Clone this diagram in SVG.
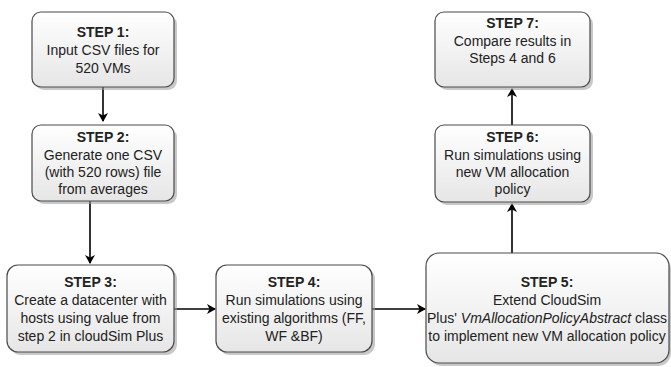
<svg xmlns="http://www.w3.org/2000/svg" width="671" height="367" viewBox="0 0 671 367">
<style>
.box{fill:url(#g);stroke:#4a4a4a;stroke-width:1.2}
.sh{fill:#9a9a9a;opacity:0.55}
text{font-family:"Liberation Sans",Arial,sans-serif;font-size:14px;fill:#222;text-anchor:middle}
.b{font-weight:bold}
.conn{stroke:#000;stroke-width:1.6;fill:none;marker-end:url(#ah)}
</style>
<defs>
<linearGradient id="g" x1="0" y1="0" x2="0" y2="1">
<stop offset="0" stop-color="#ffffff"/>
<stop offset="1" stop-color="#e6e6e6"/>
</linearGradient>
<marker id="ah" markerWidth="10" markerHeight="10" refX="8" refY="5" orient="auto" markerUnits="userSpaceOnUse">
<path d="M0,0 L9,5 L0,10 L2.5,5 Z" fill="#000"/>
</marker>
</defs>
<rect width="671" height="367" fill="#fff"/>
<g id="connectors">
<line class="conn" x1="103" y1="87" x2="103" y2="121"/>
<line class="conn" x1="90" y1="201" x2="90" y2="263"/>
<line class="conn" x1="174" y1="309" x2="215" y2="309"/>
<line class="conn" x1="372" y1="309" x2="425" y2="309"/>
<line class="conn" x1="512" y1="253" x2="512" y2="204"/>
<line class="conn" x1="512" y1="125" x2="512" y2="89"/>
</g>
<g id="step1">
<rect class="sh" x="35" y="15" width="142" height="75" rx="9"/>
<rect class="box" x="32" y="12" width="142" height="75" rx="9"/>
<text x="103" y="37" class="b">STEP 1:</text>
<text x="103" y="55">Input CSV files for</text>
<text x="103" y="73">520 VMs</text>
</g>
<g id="step2">
<rect class="sh" x="35" y="128" width="142" height="76" rx="9"/>
<rect class="box" x="32" y="125" width="142" height="76" rx="9"/>
<text x="103" y="142" class="b">STEP 2:</text>
<text x="103" y="159.5">Generate one CSV</text>
<text x="103" y="177">(with 520 rows) file</text>
<text x="103" y="194">from averages</text>
</g>
<g id="step3">
<rect class="sh" x="10" y="268" width="167" height="87" rx="11"/>
<rect class="box" x="7" y="265" width="167" height="87" rx="11"/>
<text x="90.5" y="287" class="b">STEP 3:</text>
<text x="90.5" y="305">Create a datacenter with</text>
<text x="90.5" y="323">hosts using value from</text>
<text x="90.5" y="341">step 2 in cloudSim Plus</text>
</g>
<g id="step4">
<rect class="sh" x="219" y="268" width="156" height="87" rx="11"/>
<rect class="box" x="216" y="265" width="156" height="87" rx="11"/>
<text x="294" y="287" class="b">STEP 4:</text>
<text x="294" y="305">Run simulations using</text>
<text x="294" y="323">existing algorithms (FF,</text>
<text x="294" y="341">WF &amp;BF)</text>
</g>
<g id="step5">
<rect class="sh" x="429" y="256" width="242" height="110" rx="13"/>
<rect class="box" x="426" y="253" width="243" height="110" rx="13"/>
<text x="547" y="287" class="b">STEP 5:</text>
<text x="547" y="305">Extend CloudSim</text>
<text x="547" y="323">Plus' <tspan font-style="italic">VmAllocationPolicyAbstract</tspan> class</text>
<text x="547" y="340.5">to implement new VM allocation policy</text>
</g>
<g id="step6">
<rect class="sh" x="438" y="128" width="155" height="77" rx="9"/>
<rect class="box" x="435" y="125" width="155" height="77" rx="9"/>
<text x="512.5" y="142" class="b">STEP 6:</text>
<text x="512.5" y="160">Run simulations using</text>
<text x="512.5" y="177">new VM allocation</text>
<text x="512.5" y="193.5">policy</text>
</g>
<g id="step7">
<rect class="sh" x="438" y="15" width="155" height="75" rx="9"/>
<rect class="box" x="435" y="12" width="155" height="75" rx="9"/>
<text x="512.5" y="28" class="b">STEP 7:</text>
<text x="512.5" y="46">Compare results in</text>
<text x="512.5" y="63">Steps 4 and 6</text>
</g>
</svg>
